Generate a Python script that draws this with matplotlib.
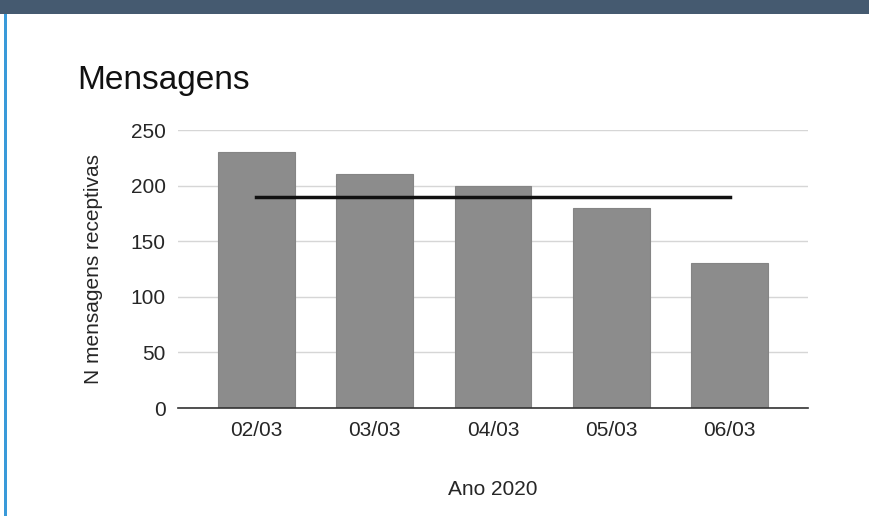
import numpy as np
import matplotlib.pyplot as plt
from matplotlib.patches import Rectangle

plt.rcParams['font.family'] = ['Liberation Sans', 'DejaVu Sans']

categories = ['02/03', '03/03', '04/03', '05/03', '06/03']
messages = [230, 210, 200, 180, 130]
mean_value = 190
y_ticks = [0, 50, 100, 150, 200, 250]

fig = plt.figure(figsize=(8.7, 5.16), dpi=100)
fig.patch.set_facecolor('white')

# page decoration: dark band on top and blue rule on the left
fig.add_artist(Rectangle((0, 1 - 14 / 516), 1, 14 / 516, transform=fig.transFigure,
                         facecolor='#455a70', edgecolor='none'))
fig.add_artist(Rectangle((4 / 870, 0), 3 / 870, 1 - 14 / 516, transform=fig.transFigure,
                         facecolor='#3a9ad9', edgecolor='none'))

ax = fig.add_axes([178 / 870, (516 - 408) / 516, 630 / 870, (408 - 130) / 516])
x = np.arange(len(categories))
ax.bar(x, messages, width=0.65, color='#8c8c8c', edgecolor='#858585', linewidth=0.8, zorder=2)
ax.plot([x[0], x[-1]], [mean_value, mean_value], color='#111111', linewidth=2.5, zorder=3)

ax.set_xlim(-0.66, len(categories) - 1 + 0.66)
ax.set_ylim(0, 250)
ax.set_yticks(y_ticks)
ax.set_xticks(x)
ax.set_xticklabels(categories)
ax.tick_params(axis='both', length=0, labelsize=15, colors='#262626')
ax.tick_params(axis='y', pad=9)
ax.tick_params(axis='x', pad=9)
ax.grid(axis='y', color='#d6d6d6', linewidth=1, zorder=0)
for s in ['top', 'right', 'left']:
    ax.spines[s].set_visible(False)
ax.spines['bottom'].set_color('#333333')
ax.spines['bottom'].set_linewidth(1.2)
ax.spines['bottom'].set_zorder(4)

ax.set_ylabel('N mensagens receptivas', fontsize=15, color='#262626', labelpad=20)
ax.set_xlabel('Ano 2020', fontsize=15, color='#262626', labelpad=29)

fig.text(77 / 870, 1 - 89 / 516, 'Mensagens', fontsize=24, color='#111111', va='baseline', ha='left')

plt.savefig('out.png', dpi=100)
